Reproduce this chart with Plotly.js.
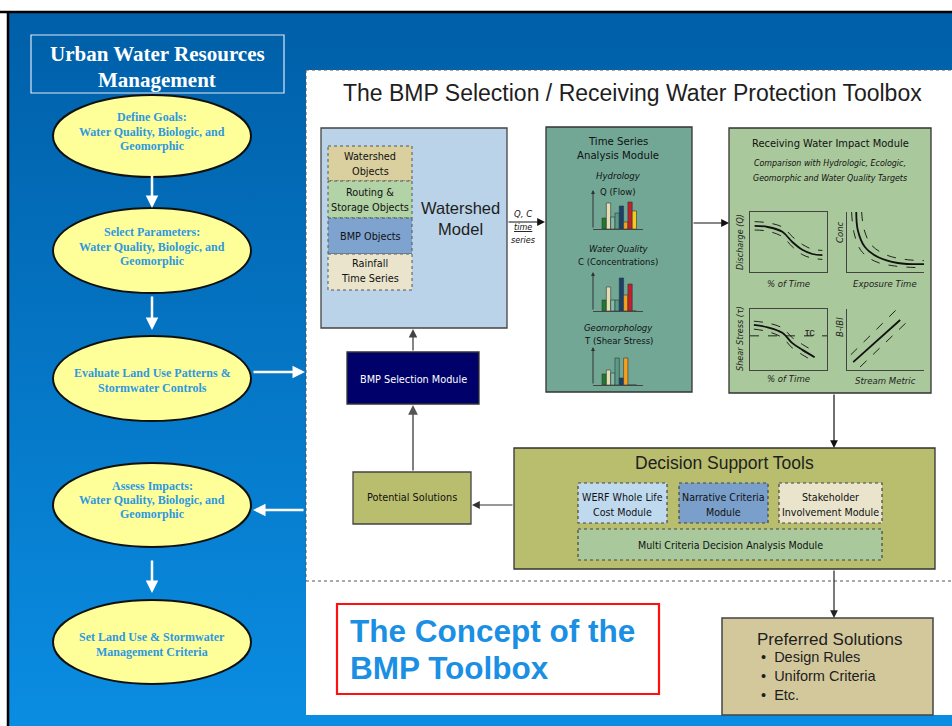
<!DOCTYPE html>
<html><head><meta charset="utf-8">
<script src="https://cdn.plot.ly/plotly-3.0.1.min.js"></script>
<style>html,body{margin:0;padding:0;background:#fff}#chart{width:952px;height:726px}</style>
</head><body><div id="chart"></div>
<script>
// ---------------- DATA ----------------
const barSeries = ['green','beige','teal','sea','navy','orange','red','yellow'];
const flowValues  = [11, 26, 12, 16, 23, 7, 27, 18];
const concValues  = [11, 24, 11, 11, 33, 16, 27, 0];
const shearValues = [11, 15, 12, 27, 7, 27, 0, 0];

const dischargeX      = [0.06, 0.23, 0.42, 0.55, 0.68, 0.81, 0.94];
const dischargeY      = [0.77, 0.75, 0.67, 0.50, 0.37, 0.30, 0.28];
const dischargeUpper  = [0.84, 0.82, 0.75, 0.59, 0.46, 0.38, 0.36];
const dischargeLower  = [0.70, 0.68, 0.59, 0.42, 0.29, 0.23, 0.21];

const concX       = [0.12, 0.14, 0.23, 0.40, 0.66, 1.00];
const concY       = [1.00, 0.70, 0.42, 0.25, 0.15, 0.13];
const concUpperX  = [0.19, 0.22, 0.31, 0.50, 0.75, 1.00];
const concUpperY  = [1.00, 0.72, 0.46, 0.29, 0.21, 0.19];
const concLowerX  = [0.06, 0.09, 0.18, 0.36, 0.62, 1.00];
const concLowerY  = [1.00, 0.66, 0.36, 0.18, 0.10, 0.07];

const shearX      = [0.05, 0.23, 0.42, 0.55, 0.68, 0.84];
const shearY      = [0.74, 0.70, 0.61, 0.44, 0.33, 0.21];
const shearUpper  = [0.80, 0.77, 0.69, 0.53, 0.42, 0.30];
const shearLower  = [0.67, 0.63, 0.53, 0.36, 0.25, 0.13];
const criticalX   = [0.0, 1.0];
const criticalY   = [0.56, 0.56];

const bibiX       = [0.08, 0.69];
const bibiY       = [0.13, 0.82];
const bibiUpperX  = [0.05, 0.65];
const bibiUpperY  = [0.25, 1.00];
const bibiLowerX  = [0.17, 0.78];
const bibiLowerY  = [0.05, 0.79];

const leftSteps = [
  ['Define Goals:', 'Water Quality, Biologic, and', 'Geomorphic'],
  ['Select Parameters:', 'Water Quality, Biologic, and', 'Geomorphic'],
  ['Evaluate Land Use Patterns &', 'Stormwater Controls'],
  ['Assess Impacts:', 'Water Quality, Biologic, and', 'Geomorphic'],
  ['Set Land Use & Stormwater', 'Management Criteria']
];
const watershedObjects = [['Watershed','Objects'],['Routing &','Storage Objects'],['BMP Objects'],['Rainfall','Time Series']];
const decisionModules = [['WERF Whole Life','Cost Module'],['Narrative Criteria','Module'],['Stakeholder','Involvement Module']];
const preferredItems = ['Design Rules','Uniform Criteria','Etc.'];

// ---------------- STYLE / LAYOUT HELPERS ----------------
const W = 952, H = 726;
const SERIF = 'Liberation Serif, Times New Roman, serif';
const SANS = 'Liberation Sans, Arial, Helvetica, sans-serif';
const NARROW = 'Liberation Sans Narrow, Arial Narrow, DejaVu Sans Condensed, sans-serif';
const barColorMap = {green:'#1F7A2C', beige:'#E6DDB5', teal:'#86B9A8', sea:'#5A9C88', navy:'#1B3F6B', orange:'#F6A01E', red:'#C4202B', yellow:'#F7C81E'};

function xd(a,b){return [a/W, b/W];}
function yd(top,bottom){return [1-bottom/H, 1-top/H];}

const shapes = [];
function rect(x0,y0,x1,y1,fill,line,lw,dash){shapes.push({type:'rect',xref:'x',yref:'y',x0,y0,x1,y1,fillcolor:fill,line:{color:line||'rgba(0,0,0,0)',width:lw===undefined?1:lw,dash:dash||'solid'},layer:'below'});}
function ell(x0,y0,x1,y1,fill,line,lw){shapes.push({type:'circle',xref:'x',yref:'y',x0,y0,x1,y1,fillcolor:fill,line:{color:line,width:lw},layer:'below'});}
function seg(x0,y0,x1,y1,color,lw,dash){shapes.push({type:'line',xref:'x',yref:'y',x0,y0,x1,y1,line:{color,width:lw,dash:dash||'solid'},layer:'below'});}

const ann = [];
function txt(x,y,text,size,color,family,o){
  o=o||{};
  ann.push({x,y,xref:'x',yref:'y',text,showarrow:false,xanchor:o.xanchor||'center',yanchor:'middle',align:o.align||'center',textangle:o.angle||0,
    font:{size,color,family,weight:o.weight||'normal',style:o.style||'normal'}});
}
function lines(x,yFirst,lh,arr,size,color,family,o){arr.forEach((t,i)=>txt(x,yFirst+i*lh,t,size,color,family,o));}
function arrow(x,y,ax,ay,color,width,size){
  ann.push({x,y,ax,ay,xref:'x',yref:'y',axref:'x',ayref:'y',text:'',showarrow:true,arrowhead:2,arrowsize:size,arrowwidth:width,arrowcolor:color,standoff:0,startstandoff:0});
}

// ---------------- BACKGROUND ----------------
const gradSvg = '<svg xmlns="http://www.w3.org/2000/svg" width="10" height="100" preserveAspectRatio="none"><defs><linearGradient id="g" x1="0" y1="0" x2="0" y2="1"><stop offset="0" stop-color="#005FA8"/><stop offset="1" stop-color="#0A8DE2"/></linearGradient></defs><rect width="10" height="100" fill="url(#g)"/></svg>';
const images = [{source:'data:image/svg+xml;charset=utf-8,'+encodeURIComponent(gradSvg),xref:'paper',yref:'paper',x:9/W,y:1-13/H,sizex:1-9/W,sizey:1-13/H,sizing:'stretch',xanchor:'left',yanchor:'top',layer:'below'}];

seg(0,12,W,12,'#000',2.5);
seg(8,12,8,H,'#000',2.5);

// white toolbox panel
rect(306,70,W+2,715,'#FFFFFF',null,0);
seg(306,70,W,70,'#555',1,'dot');
seg(306,70,306,581,'#555',1,'dot');
seg(306,581,W,581,'#555',1,'dot');

// left title box
rect(31,35,284,93,'rgba(0,0,0,0)','#DDE8F5',1.2);
lines(157,54,26,['Urban Water Resources','Management'],21,'#FFFFFF',SERIF,{weight:'bold'});

// ellipses
const ellY = [[95,177],[208,293],[336,421],[463,547],[600,684]];
const ellText = [[117,14.5],[232,14.5],[373,15],[486,14],[637,15]];
ellY.forEach((e,i)=>{
  ell(53,e[0],251,e[1],'#FFFF99','#111',2);
  lines(152,ellText[i][0],ellText[i][1],leftSteps[i],12,'#2E98E0',SERIF,{weight:'bold'});
});
arrow(152,208,152,174,'#FFFFFF',2.5,1);
arrow(152,330,152,295,'#FFFFFF',2.5,1);
arrow(152,593,152,559,'#FFFFFF',2.5,1);
arrow(305,372,252,372,'#FFFFFF',2.5,1);
arrow(253,510,305,510,'#FFFFFF',2.5,1);

// main title
txt(632,93,'The BMP Selection / Receiving Water Protection Toolbox',23,'#1E1E1E',SANS);

// Watershed model
rect(321,128,507,328,'#BBD3E8','#444',1.3);
const wsFill = ['#D9CF9F','#B2D3A5','#7FA3CF','#E9E4CB'];
const wsY = [[146,181],[181,218],[218,254],[254,290]];
const wsTextY = [156,192,236,263];
watershedObjects.forEach((t,i)=>{
  rect(328,wsY[i][0],412,wsY[i][1],wsFill[i],'#555',1,'dot');
  lines(370,wsTextY[i],15,t,10.8,'#111',NARROW);
});
txt(460,218,'Watershed<br>Model',16.5,'#1E1E1E',SANS);
arrow(545,222,507,222,'#111',1.2,1.3);
txt(523,213,'Q, C',9.5,'#111',NARROW,{style:'italic'});
txt(523,227,'<u>time</u>',9,'#111',NARROW,{style:'italic'});
txt(523,240,'series',9,'#111',NARROW,{style:'italic'});

// BMP Selection / Potential solutions
rect(347,352,479,404,'#00006B','#333',1.3);
txt(413,379,'BMP Selection Module',10.8,'#FFFFFF',NARROW);
arrow(413,329,413,352,'#444',1.3,1.3);
rect(353,472,471,524,'#B9BD6E','#444',1.3);
txt(412,497,'Potential Solutions',10.8,'#111',NARROW);
arrow(413,405,413,472,'#555',1.5,1.3);

// Time series module
rect(546,127,692,392,'#72A796','#333',1.3);
lines(618,141,14,['Time Series','Analysis Module'],11.3,'#111',NARROW);
txt(618,175,'Hydrology',9.5,'#111',NARROW,{style:'italic'});
txt(618,191,'Q (Flow)',9.5,'#111',NARROW);
txt(618,248,'Water Quality',9.5,'#111',NARROW,{style:'italic'});
txt(618,261,'C (Concentrations)',9.5,'#111',NARROW);
txt(618,327,'Geomorphology',9.5,'#111',NARROW,{style:'italic'});
txt(618,340,'T (Shear Stress)',9.5,'#111',NARROW);
arrow(593,190,593,229,'#333',1,0.8);
arrow(593,272,593,311,'#333',1,0.8);
arrow(593,347,593,385,'#333',1,0.8);
arrow(729,223,692,223,'#111',1.2,1.3);

// Receiving water impact module
rect(729,128,931,393,'#A9C89B','#333',1.3);
txt(830,143,'Receiving Water Impact Module',11,'#111',NARROW);
lines(830,163,15,['Comparison with Hydrologic, Ecologic,','Geomorphic and Water Quality Targets'],8.8,'#111',NARROW,{style:'italic'});
txt(740,242,'Discharge (Q)',9,'#222',NARROW,{style:'italic',angle:-90});
txt(788,283,'% of Time',9.5,'#222',NARROW,{style:'italic'});
txt(839,232,'Conc',9.5,'#222',NARROW,{style:'italic',angle:-90});
txt(885,283,'Exposure Time',9.5,'#222',NARROW,{style:'italic'});
txt(740,339,'Shear Stress (τ)',9,'#222',NARROW,{style:'italic',angle:-90});
txt(788,378,'% of Time',9.5,'#222',NARROW,{style:'italic'});
txt(839,327,'B-IBI',9.5,'#222',NARROW,{style:'italic',angle:-90});
txt(885,380,'Stream Metric',9.5,'#222',NARROW,{style:'italic'});
txt(810,332,'τc',11,'#222',SANS);
arrow(834,448,834,393,'#111',1.2,1.3);

// Decision support
rect(514,448,935,569,'#B9BD6E','#333',1.3);
txt(724,463,'Decision Support Tools',17.5,'#1E1E1E',SANS);
const dsX = [[578,667],[679,768],[779,882]];
const dsFill = ['#BFDAEF','#7A9FCB','#E9E4CB'];
decisionModules.forEach((t,i)=>{
  rect(dsX[i][0],483,dsX[i][1],523,dsFill[i],'#444',1.2,'dot');
  lines((dsX[i][0]+dsX[i][1])/2,497,14.5,t,10.6,'#111',NARROW);
});
rect(578,529,882,560,'#A9C99C','#444',1.2,'dot');
txt(730,545,'Multi Criteria Decision Analysis Module',10.6,'#111',NARROW);
arrow(472,505,514,505,'#333',1.2,1.3);
arrow(834,618,834,569,'#222',1.2,1.3);

// concept box
rect(337,604,659,694,'#FFFFFF','#FF1010',2.2);
lines(348,631,37,['The Concept of the','BMP Toolbox'],31.5,'#1A8FE3',SANS,{weight:'bold',xanchor:'left'});

// preferred solutions
rect(722,618,933,715,'#D3C89B','#444',1.5);
txt(830,639,'Preferred Solutions',17,'#1E1E1E',SANS);
txt(759,676,preferredItems.map(t=>'•  '+t).join('<br>'),14.5,'#1E1E1E',SANS,{xanchor:'left',align:'left'});

// ---------------- TRACES ----------------
const traces = [];
function barTrace(vals,n){
  return {type:'bar',x:barSeries,y:vals,xaxis:'x'+n,yaxis:'y'+n,width:1,
    marker:{color:barSeries.map(s=>barColorMap[s]),line:{color:'#2A3A34',width:0.6}},hoverinfo:'skip'};
}
traces.push(barTrace(flowValues,2));
traces.push(barTrace(concValues,3));
traces.push(barTrace(shearValues,4));
function line(x,y,n,dash,w){return {type:'scatter',mode:'lines',x,y,xaxis:'x'+n,yaxis:'y'+n,line:{color:'#111',width:w||1.8,dash:dash||'solid',shape:'spline'},hoverinfo:'skip'};}
traces.push(line(dischargeX,dischargeUpper,5,'dash',0.9));
traces.push(line(dischargeX,dischargeLower,5,'dash',0.9));
traces.push(line(dischargeX,dischargeY,5));
traces.push(line(concUpperX,concUpperY,6,'dash',0.9));
traces.push(line(concLowerX,concLowerY,6,'dash',0.9));
traces.push(line(concX,concY,6));
traces.push(line(criticalX,criticalY,7,'dash',0.9));
traces.push(line(shearX,shearUpper,7,'dash',0.9));
traces.push(line(shearX,shearLower,7,'dash',0.9));
traces.push(line(shearX,shearY,7));
traces.push(line(bibiUpperX,bibiUpperY,8,'dash',0.9));
traces.push(line(bibiLowerX,bibiLowerY,8,'dash',0.9));
traces.push(line(bibiX,bibiY,8));

function ax(domain,range,anchor,extra){
  return Object.assign({domain,range,anchor,showgrid:false,zeroline:false,showticklabels:false,ticks:'',fixedrange:true,showline:false,linecolor:'#444',linewidth:1},extra||{});
}

const layout = {
  width:W,height:H,margin:{l:0,r:0,t:0,b:0,pad:0},
  paper_bgcolor:'#FFFFFF',plot_bgcolor:'rgba(0,0,0,0)',showlegend:false,
  bargap:0,
  xaxis:ax([0,1],[0,W],'y',{visible:false}),
  yaxis:ax([0,1],[H,0],'x',{visible:false}),
  xaxis2:ax(xd(593,643),[-2.6,9.0],'y2',{showline:true,type:'category'}),
  yaxis2:ax(yd(190,229),[0,39],'x2'),
  xaxis3:ax(xd(593,643),[-2.6,9.0],'y3',{showline:true,type:'category'}),
  yaxis3:ax(yd(272,311),[0,39],'x3'),
  xaxis4:ax(xd(593,643),[-2.6,9.0],'y4',{showline:true,type:'category'}),
  yaxis4:ax(yd(347,385),[0,38],'x4'),
  xaxis5:ax(xd(750,827),[0,1],'y5',{showline:true,mirror:true}),
  yaxis5:ax(yd(212,272),[0,1],'x5',{showline:true,mirror:true}),
  xaxis6:ax(xd(847,924),[0,1],'y6',{showline:true}),
  yaxis6:ax(yd(212,272),[0,1],'x6',{showline:true}),
  xaxis7:ax(xd(750,827),[0,1],'y7',{showline:true,mirror:true}),
  yaxis7:ax(yd(309,370),[0,1],'x7',{showline:true,mirror:true}),
  xaxis8:ax(xd(847,924),[0,1],'y8',{showline:true}),
  yaxis8:ax(yd(309,370),[0,1],'x8',{showline:true}),
  shapes, annotations:ann, images
};
Plotly.newPlot('chart',traces,layout,{staticPlot:true,displayModeBar:false});
</script></body></html>
